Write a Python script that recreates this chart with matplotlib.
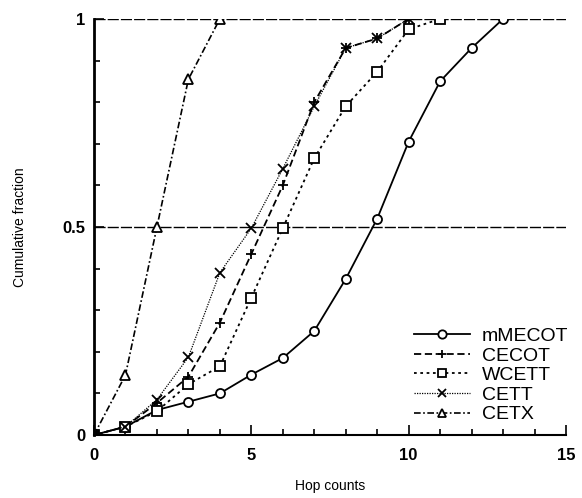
import numpy as np
import matplotlib
matplotlib.use("Agg")
import matplotlib.pyplot as plt
from matplotlib.ticker import MultipleLocator

# hop counts and cumulative fractions
hops_mmecot = [0, 1, 2, 3, 4, 5, 6, 7, 8, 9, 10, 11, 12, 13]
cdf_mmecot = [0, 0.02, 0.06, 0.08, 0.10, 0.145, 0.185, 0.25, 0.375, 0.52, 0.705, 0.85, 0.93, 1.0]

hops_cecot = [0, 1, 2, 3, 4, 5, 6, 7, 8, 9, 10]
cdf_cecot = [0, 0.02, 0.077, 0.14, 0.27, 0.435, 0.60, 0.80, 0.93, 0.953, 1.0]

hops_wcett = [0, 1, 2, 3, 4, 5, 6, 7, 8, 9, 10, 11]
cdf_wcett = [0, 0.02, 0.057, 0.122, 0.165, 0.33, 0.497, 0.665, 0.79, 0.873, 0.975, 1.0]

hops_cett = [0, 1, 2, 3, 4, 5, 6, 7, 8, 9, 10]
cdf_cett = [0, 0.02, 0.085, 0.187, 0.39, 0.497, 0.64, 0.79, 0.93, 0.953, 1.0]

hops_cetx = [0, 1, 2, 3, 4]
cdf_cetx = [0, 0.144, 0.50, 0.855, 1.0]

series = [
    ("mMECOT", hops_mmecot, cdf_mmecot, "o", "-", 1.3),
    ("CECOT", hops_cecot, cdf_cecot, "+", (0, (4, 2)), 1.3),
    ("WCETT", hops_wcett, cdf_wcett, "s", (0, (1.5, 2)), 1.3),
    ("CETT", hops_cett, cdf_cett, "x", (0, (1, 1)), 0.9),
    ("CETX", hops_cetx, cdf_cetx, "^", (0, (4, 1.5, 1, 1.5)), 1.2),
]

fig = plt.figure(figsize=(5.82, 4.98), dpi=100)
ax = fig.add_axes([0.1615, 0.1265, 0.811, 0.8355])

# horizontal reference lines
for yv in (0.5, 1.0):
    ax.axhline(yv, color="black", lw=1.0, ls=(0, (8, 1.5)), zorder=1)

for name, x, y, mk, ls, lw in series:
    ax.plot(x, y, color="black", ls=ls, lw=lw, marker=mk, markersize=6.5,
            markerfacecolor="white", markeredgecolor="black",
            markeredgewidth=1.3, label=name, zorder=3)

# origin looks like a filled square where all curves start
ax.plot([0], [0], marker="s", color="black", markersize=6, zorder=4)

ax.set_xlim(0, 15)
ax.set_ylim(0, 1)
ax.spines["top"].set_visible(False)
ax.spines["right"].set_visible(False)
ax.spines["left"].set_linewidth(2.0)
ax.spines["bottom"].set_linewidth(1.5)

ax.set_xticks([0, 5, 10, 15])
ax.set_yticks([0, 0.5, 1])
ax.set_yticklabels(["0", "0.5", "1"])
ax.xaxis.set_minor_locator(MultipleLocator(1))
ax.yaxis.set_minor_locator(MultipleLocator(0.1))
ax.tick_params(which="both", direction="in", width=1.2)
ax.tick_params(which="major", length=7, labelsize=12, pad=6)
ax.tick_params(axis="x", which="major", pad=9)
ax.tick_params(which="minor", length=4)
for lbl in ax.get_xticklabels() + ax.get_yticklabels():
    lbl.set_fontweight("bold")
    lbl.set_family("Liberation Sans")

ax.set_xlabel("Hop counts", fontsize=10, family="Liberation Sans", labelpad=12)
ax.set_ylabel("Cumulative fraction", fontsize=10, family="Liberation Sans", labelpad=26)

leg = ax.legend(loc="lower right", bbox_to_anchor=(1.03, 0.0), frameon=False,
                prop={"family": "Liberation Sans", "size": 14},
                handlelength=2.9, handletextpad=0.6, labelspacing=0.1,
                borderaxespad=0.2)
for h in leg.legend_handles:
    h.set_markersize(6)

fig.savefig("out.png", dpi=100)
